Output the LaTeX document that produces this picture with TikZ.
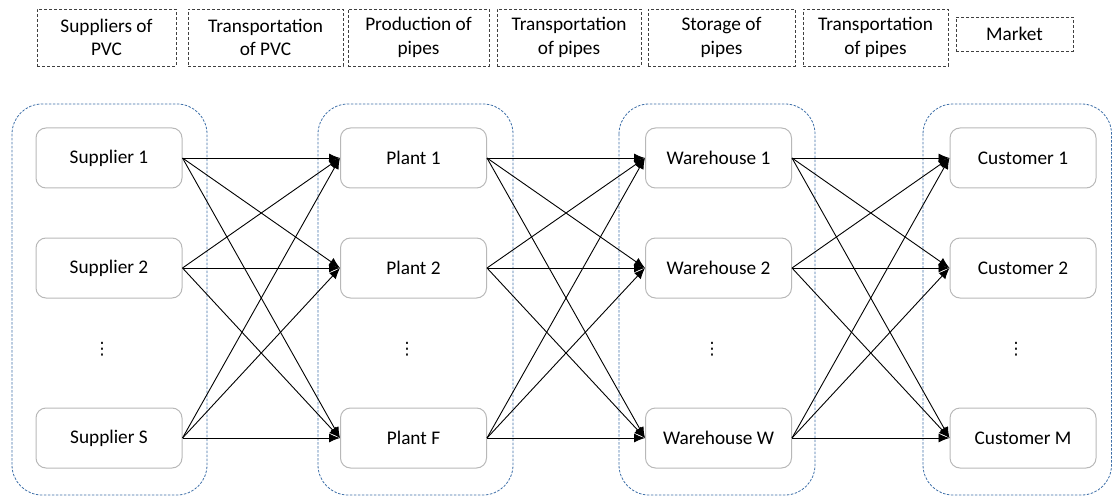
\documentclass[tikz,border=0pt]{standalone}
\usepackage{fontspec}
\setmainfont{Carlito}
\newfontfamily\dejavu{DejaVu Sans}
\usetikzlibrary{arrows.meta}
\definecolor{myblue}{HTML}{3E6FA8}
\begin{document}
\begin{tikzpicture}[x=1pt,y=-1pt,
  every node/.style={font=\fontsize{19.3}{23.5}\selectfont, text=black},
  hdr/.style={draw=black!75, dash pattern=on 3pt off 2pt, line width=0.9pt, align=center, inner sep=0pt},
  grp/.style={draw=myblue, dash pattern=on 2.5pt off 1.5pt, line width=0.8pt, rounded corners=30pt},
  ent/.style={draw=black!28, line width=1pt, rounded corners=10pt, minimum width=146pt, minimum height=60pt, inner sep=0pt},
  dotsn/.style={inner sep=0pt, font=\dejavu\fontsize{17}{17}\selectfont},
  flow/.style={draw=black, line width=0.9pt, -{Latex[length=11pt,width=9pt]}}
]
\useasboundingbox (0,0) rectangle (1113,497);
% header boxes
\node[hdr, minimum width=139pt, minimum height=57pt] (h1) at (106.5,37.5) {Suppliers of\\PVC};
\node[hdr, minimum width=155pt, minimum height=57pt] (h2) at (265.5,37.5) {Transportation\\of PVC};
\node[hdr, minimum width=141pt, minimum height=57pt] (h3) at (418.5,37.5) {Production of\\pipes};
\node[hdr, minimum width=144pt, minimum height=57pt] (h4) at (569,37.5) {Transportation\\of pipes};
\node[hdr, minimum width=147pt, minimum height=57pt] (h5) at (721.5,37.5) {Storage of\\pipes};
\node[hdr, minimum width=145pt, minimum height=57pt] (h6) at (875.5,37.5) {Transportation\\of pipes};
\node[hdr, minimum width=117pt, minimum height=34pt] (h7) at (1014.5,34) {Market};
% group boxes
\draw[grp] (12,104) rectangle (207,495);
\draw[grp] (318,104) rectangle (513,495);
\draw[grp] (619,104) rectangle (815,495);
\draw[grp] (923,104) rectangle (1111.5,495);
% entity nodes
\node[ent] (s1) at (109,158) {Supplier 1};
\node[ent] (s2) at (109,268) {Supplier 2};
\node[dotsn] (sd) at (102,349) {⋮};
\node[ent] (s3) at (109,438) {Supplier S};
\node[ent] (p1) at (413.5,158) {Plant 1};
\node[ent] (p2) at (413.5,268) {Plant 2};
\node[dotsn] (pd) at (407,349) {⋮};
\node[ent] (p3) at (413.5,438) {Plant F};
\node[ent] (w1) at (718.5,158) {Warehouse 1};
\node[ent] (w2) at (718.5,268) {Warehouse 2};
\node[dotsn] (wd) at (712,349) {⋮};
\node[ent] (w3) at (718.5,438) {Warehouse W};
\node[ent] (c1) at (1023,158) {Customer 1};
\node[ent] (c2) at (1023,268) {Customer 2};
\node[dotsn] (cd) at (1016,349) {⋮};
\node[ent] (c3) at (1023,438) {Customer M};
% flows
\foreach \a/\b in {s/p,p/w,w/c}{
  \foreach \i in {1,2,3}{
    \foreach \j in {1,2,3}{
      \draw[flow] (\a\i.east) -- (\b\j.west);
    }
  }
}
\end{tikzpicture}
\end{document}
